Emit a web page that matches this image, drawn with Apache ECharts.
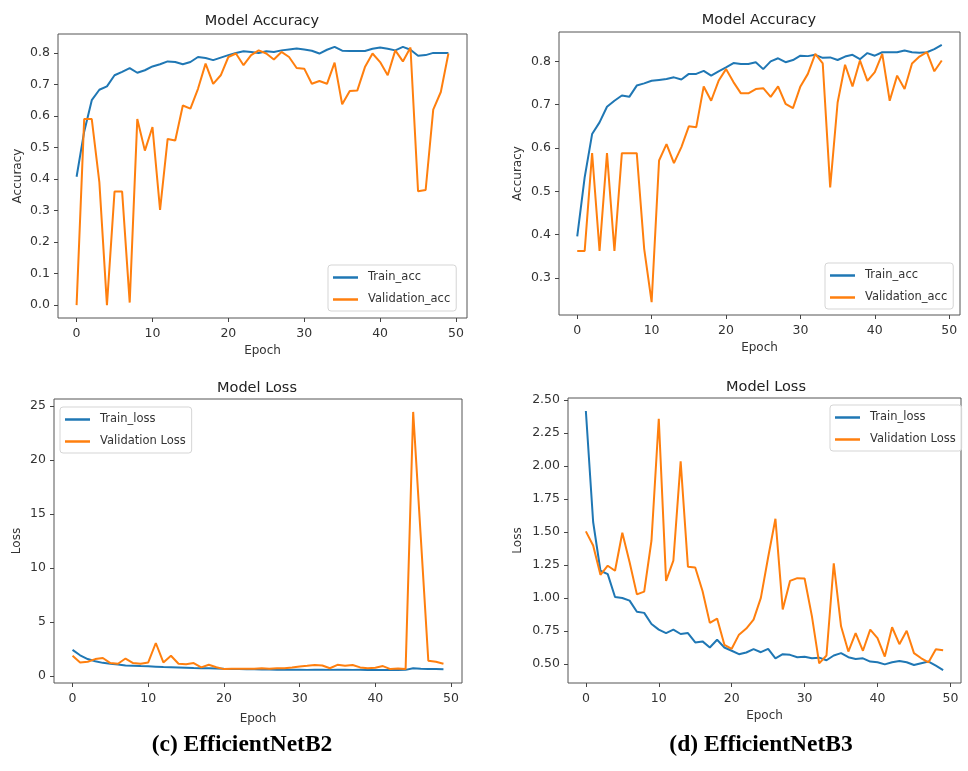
<!DOCTYPE html>
<html>
<head>
<meta charset="utf-8">
<script src="https://cdn.jsdelivr.net/npm/echarts@6/dist/echarts.min.js"></script>
<style>
html,body{margin:0;padding:0;background:#fff;}
#c{width:968px;height:771px;}
</style>
</head>
<body>
<div id="c"></div>
<script>
// ---- data ----
var epochTicks = [0, 10, 20, 30, 40, 50];
var accTicksB2 = [0.0, 0.1, 0.2, 0.3, 0.4, 0.5, 0.6, 0.7, 0.8];
var accTicksB3 = [0.3, 0.4, 0.5, 0.6, 0.7, 0.8];
var lossTicksB2 = [0, 5, 10, 15, 20, 25];
var lossTicksB3 = [0.5, 0.75, 1.0, 1.25, 1.5, 1.75, 2.0, 2.25, 2.5];

var accTrainB2 = [0.407,0.55,0.65,0.683,0.694,0.729,0.74,0.752,0.737,0.745,
  0.757,0.764,0.773,0.771,0.764,0.771,0.787,0.784,0.777,0.785,
  0.793,0.80,0.805,0.803,0.80,0.805,0.803,0.808,0.811,0.814,
  0.811,0.807,0.798,0.81,0.819,0.807,0.806,0.806,0.806,0.813,
  0.817,0.813,0.808,0.819,0.81,0.791,0.793,0.80,0.80,0.80];
var accValB2 = [0.0,0.59,0.59,0.39,0.0,0.36,0.36,0.008,0.59,0.49,
  0.565,0.302,0.527,0.522,0.633,0.623,0.686,0.766,0.702,0.729,
  0.787,0.798,0.761,0.793,0.808,0.798,0.779,0.803,0.787,0.752,
  0.75,0.702,0.711,0.702,0.769,0.637,0.679,0.681,0.755,0.798,
  0.771,0.729,0.808,0.773,0.817,0.361,0.365,0.62,0.676,0.798];

var accTrainB3 = [0.396,0.532,0.632,0.659,0.695,0.709,0.721,0.718,0.744,0.749,
  0.755,0.757,0.759,0.763,0.758,0.771,0.771,0.778,0.767,0.777,
  0.786,0.796,0.794,0.794,0.798,0.782,0.80,0.807,0.798,0.803,
  0.813,0.812,0.815,0.808,0.809,0.803,0.811,0.815,0.805,0.819,
  0.813,0.821,0.821,0.821,0.825,0.821,0.82,0.821,0.828,0.838];
var accValB3 = [0.362,0.362,0.588,0.362,0.588,0.362,0.588,0.588,0.588,0.367,
  0.244,0.571,0.609,0.565,0.602,0.65,0.648,0.742,0.709,0.755,
  0.782,0.752,0.726,0.726,0.736,0.738,0.718,0.742,0.702,0.692,
  0.742,0.771,0.817,0.795,0.509,0.705,0.792,0.742,0.802,0.755,
  0.775,0.817,0.709,0.767,0.736,0.795,0.811,0.821,0.777,0.802];

var lossTrainB2 = [2.4,1.9,1.55,1.35,1.2,1.12,1.05,0.95,0.93,0.9,
  0.88,0.85,0.82,0.8,0.78,0.75,0.72,0.7,0.7,0.68,
  0.65,0.63,0.62,0.6,0.6,0.58,0.58,0.57,0.56,0.56,
  0.57,0.55,0.56,0.57,0.55,0.56,0.56,0.55,0.56,0.54,
  0.55,0.55,0.54,0.53,0.55,0.7,0.65,0.63,0.62,0.6];
var lossValB2 = [1.86,1.24,1.3,1.55,1.65,1.18,1.12,1.6,1.18,1.12,
  1.24,3.04,1.24,1.86,1.12,1.08,1.18,0.78,1.02,0.8,
  0.62,0.65,0.65,0.65,0.65,0.7,0.65,0.7,0.7,0.78,
  0.87,0.93,1.0,0.96,0.7,1.02,0.93,1.0,0.78,0.7,
  0.75,0.9,0.62,0.68,0.62,24.45,12.9,1.4,1.3,1.12];

var lossTrainB3 = [2.416,1.575,1.206,1.18,1.007,1.0,0.98,0.895,0.887,0.803,
  0.76,0.734,0.76,0.727,0.734,0.663,0.671,0.625,0.683,0.625,
  0.6,0.574,0.587,0.612,0.589,0.615,0.543,0.574,0.569,0.551,
  0.554,0.543,0.548,0.528,0.564,0.582,0.551,0.538,0.543,0.518,
  0.513,0.497,0.513,0.523,0.513,0.492,0.505,0.518,0.487,0.454];
var lossValB3 = [1.504,1.397,1.175,1.244,1.206,1.494,1.27,1.027,1.048,1.435,
  2.357,1.129,1.282,2.034,1.236,1.231,1.053,0.811,0.844,0.645,
  0.615,0.722,0.768,0.836,1.0,1.308,1.6,0.913,1.129,1.15,
  1.147,0.862,0.505,0.564,1.262,0.785,0.594,0.734,0.6,0.76,
  0.696,0.556,0.778,0.65,0.752,0.582,0.543,0.513,0.612,0.604];

// ---- helpers ----
var BLUE = '#1f77b4', ORANGE = '#ff7f0e';
var FONT = 'DejaVu Sans';
function pairs(arr){ return arr.map(function(v,i){ return [i, v]; }); }
function range(a, b){
  var all = a.concat(b);
  var lo = Math.min.apply(null, all), hi = Math.max.apply(null, all);
  var m = (hi - lo) * 0.05;
  return [lo - m, hi + m];
}
var xMin = -49 * 0.05, xMax = 49 * 1.05;

var grids = [
  {left: 58, top: 34, width: 409, height: 284},
  {left: 559, top: 32, width: 401, height: 283},
  {left: 54, top: 399, width: 408, height: 284},
  {left: 568, top: 398, width: 393, height: 285}
];
var panels = [
  {tr: accTrainB2, va: accValB2, ticks: accTicksB2, dec: 1, yname: 'Accuracy', ygap: 34, xgap: 27, names: ['Train_acc','Validation_acc']},
  {tr: accTrainB3, va: accValB3, ticks: accTicksB3, dec: 1, yname: 'Accuracy', ygap: 35, xgap: 27, names: ['Train_acc','Validation_acc']},
  {tr: lossTrainB2, va: lossValB2, ticks: lossTicksB2, dec: 0, yname: 'Loss', ygap: 31, xgap: 30, names: ['Train_loss','Validation Loss']},
  {tr: lossTrainB3, va: lossValB3, ticks: lossTicksB3, dec: 2, yname: 'Loss', ygap: 44, xgap: 27, names: ['Train_loss','Validation Loss']}
];

var xAxes = [], yAxes = [], series = [];
panels.forEach(function(p, i){
  var r = range(p.tr, p.va);
  xAxes.push({
    type: 'value', gridIndex: i, min: xMin, max: xMax,
    name: 'Epoch', nameLocation: 'middle', nameGap: p.xgap,
    nameTextStyle: {fontFamily: FONT, fontSize: 12, color: '#333'},
    axisLine: {show: false, onZero: false},
    axisTick: {show: true, inside: false, length: 4, customValues: epochTicks, lineStyle: {color: '#444'}},
    axisLabel: {customValues: epochTicks, margin: 9, fontFamily: FONT, fontSize: 12.5, color: '#333'},
    splitLine: {show: false}
  });
  yAxes.push({
    type: 'value', gridIndex: i, min: r[0], max: r[1],
    name: p.yname, nameLocation: 'middle', nameGap: p.ygap, nameRotate: 90,
    nameTextStyle: {fontFamily: FONT, fontSize: 12, color: '#333'},
    axisLine: {show: false, onZero: false},
    axisTick: {show: true, inside: false, length: 4, customValues: p.ticks, lineStyle: {color: '#444'}},
    axisLabel: {customValues: p.ticks, margin: 8, fontFamily: FONT, fontSize: 12.5, color: '#333',
      formatter: (function(d){ return function(v){ return Number(v).toFixed(d); }; })(p.dec)},
    splitLine: {show: false}
  });
  series.push({
    type: 'line', name: p.names[0], xAxisIndex: i, yAxisIndex: i,
    data: pairs(p.tr), showSymbol: false, symbol: 'none',
    lineStyle: {color: BLUE, width: 2}, itemStyle: {color: BLUE}, z: 2, animation: false
  });
  series.push({
    type: 'line', name: p.names[1], xAxisIndex: i, yAxisIndex: i,
    data: pairs(p.va), showSymbol: false, symbol: 'none',
    lineStyle: {color: ORANGE, width: 2}, itemStyle: {color: ORANGE}, z: 3, animation: false
  });
});

function legend(names, left, top){
  return {
    data: names, orient: 'vertical', left: left, top: top,
    icon: 'rect', itemWidth: 25, itemHeight: 2.5, itemGap: 9,
    padding: [6, 6, 5, 5],
    borderColor: '#d5d5d5', borderWidth: 1, borderRadius: 3,
    backgroundColor: 'rgba(255,255,255,0.8)',
    textStyle: {fontFamily: FONT, fontSize: 11.5, color: '#333', padding: [0,0,0,5], lineHeight: 13},
    selectedMode: false
  };
}

function txt(s, x, y, font){
  return {type: 'text', x: x, y: y, silent: true,
    style: {text: s, font: font, fill: '#222', textAlign: 'center', textVerticalAlign: 'middle'}};
}

var chart = echarts.init(document.getElementById('c'), null, {renderer: 'canvas'});
chart.setOption({
  animation: false,
  backgroundColor: '#fff',
  grid: grids.map(function(g){ return Object.assign({show: true, borderColor: '#555', borderWidth: 1, backgroundColor: 'transparent', containLabel: false}, g); }),
  xAxis: xAxes,
  yAxis: yAxes,
  legend: [
    legend(['Train_acc','Validation_acc'], 328, 265),
    legend(['Train_acc','Validation_acc'], 825, 263),
    legend(['Train_loss','Validation Loss'], 60, 407),
    legend(['Train_loss','Validation Loss'], 830, 405)
  ],
  series: series,
  graphic: [
    txt('Model Accuracy', 262, 21, '14.5px "DejaVu Sans"'),
    txt('Model Accuracy', 759, 20, '14.5px "DejaVu Sans"'),
    txt('Model Loss', 257, 388, '14.5px "DejaVu Sans"'),
    txt('Model Loss', 766, 387, '14.5px "DejaVu Sans"'),
    {type: 'text', x: 242, y: 745, silent: true, style: {text: '(c) EfficientNetB2', font: 'bold 23.5px "Liberation Serif"', fill: '#000', textAlign: 'center', textVerticalAlign: 'middle'}},
    {type: 'text', x: 761, y: 745, silent: true, style: {text: '(d) EfficientNetB3', font: 'bold 23.5px "Liberation Serif"', fill: '#000', textAlign: 'center', textVerticalAlign: 'middle'}}
  ]
});
</script>
</body>
</html>
